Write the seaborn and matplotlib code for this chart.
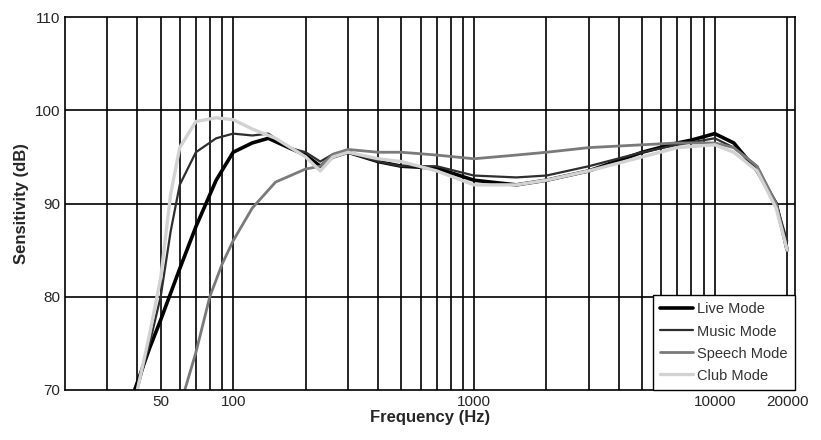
import seaborn as sns
import numpy as np
import pandas as pd
import matplotlib.pyplot as plt
from matplotlib.ticker import FixedLocator, NullLocator

# frequency response per mode
live_f = [39, 45, 50, 60, 70, 85, 100, 120, 140, 170, 200, 230, 260, 300, 400, 500, 700, 1000, 1500, 2000, 3000, 5000, 7000, 8000, 10000, 12000, 15000, 18000, 20000]
live_db = [70, 74.5, 77.5, 83, 87.5, 92.5, 95.5, 96.5, 97, 96, 95.2, 94, 95, 95.5, 94.5, 94, 93.8, 92.5, 92, 92.5, 93.5, 95.5, 96.5, 96.8, 97.5, 96.5, 93.5, 90, 85]

music_f = [40, 45, 50, 55, 60, 70, 85, 100, 120, 140, 170, 200, 230, 260, 300, 400, 500, 700, 1000, 1500, 2000, 3000, 5000, 7000, 10000, 12000, 15000, 18000, 20000]
music_db = [70, 75, 80, 87, 92, 95.5, 97, 97.5, 97.3, 97.5, 96, 95.5, 94.5, 95.3, 95.5, 94.5, 94, 94, 93, 92.8, 93, 94, 95.5, 96.3, 97, 96, 94, 90, 86]

speech_f = [63, 70, 80, 90, 100, 120, 150, 200, 230, 260, 300, 400, 500, 700, 1000, 1500, 2000, 3000, 5000, 7000, 10000, 12000, 15000, 18000, 20000]
speech_db = [70, 74, 80, 83.5, 86, 89.5, 92.3, 93.7, 94, 95.3, 95.8, 95.5, 95.5, 95.2, 94.8, 95.2, 95.5, 96, 96.3, 96.5, 96.5, 96, 94, 90, 85]

club_f = [40, 45, 50, 55, 60, 70, 85, 100, 120, 150, 200, 230, 260, 300, 400, 500, 700, 1000, 1500, 2000, 3000, 5000, 7000, 10000, 12000, 15000, 18000, 20000]
club_db = [70, 76, 82, 91, 96, 98.8, 99.2, 99, 98, 97, 95, 93.5, 95, 95.5, 94.8, 94.5, 93.5, 92, 92, 92.5, 93.5, 95, 96, 96.3, 95.5, 93.5, 89.5, 85]

modes = ['Live Mode', 'Music Mode', 'Speech Mode', 'Club Mode']
colors = ['#000000', '#2e2e2e', '#7a7a7a', '#d2d2d2']
widths = [2.6, 1.6, 2.0, 2.4]

df = pd.concat([
    pd.DataFrame({'freq': live_f, 'db': live_db, 'mode': modes[0]}),
    pd.DataFrame({'freq': music_f, 'db': music_db, 'mode': modes[1]}),
    pd.DataFrame({'freq': speech_f, 'db': speech_db, 'mode': modes[2]}),
    pd.DataFrame({'freq': club_f, 'db': club_db, 'mode': modes[3]}),
])

sns.set_style('white')
plt.rcParams['font.family'] = ['Liberation Sans', 'DejaVu Sans']
fig = plt.figure(figsize=(8.21, 4.4), dpi=100)
ax = fig.add_axes([0.079, 0.114, 0.889, 0.847])
ax.set_xscale('log')

grid_f = [30, 40, 50, 60, 70, 80, 90, 100, 200, 300, 400, 500, 600, 700, 800, 900,
          1000, 2000, 3000, 4000, 5000, 6000, 7000, 8000, 9000, 10000, 20000]
for g in grid_f:
    ax.axvline(g, color='black', lw=1.2, zorder=0)
for y in [80, 90, 100]:
    ax.axhline(y, color='black', lw=1.2, zorder=0)

for m, c, w in zip(modes, colors, widths):
    sns.lineplot(data=df[df['mode'] == m], x='freq', y='db', color=c, lw=w,
                 label=m, ax=ax, estimator=None, sort=True)

ax.set_xlim(20, 21500)
ax.set_ylim(70, 110)
ax.set_yticks([70, 80, 90, 100, 110])
ax.xaxis.set_major_locator(FixedLocator([50, 100, 1000, 10000, 20000]))
ax.xaxis.set_minor_locator(NullLocator())
ax.set_xticklabels(['50', '100', '1000', '10000', '20000'])
ax.tick_params(labelsize=11, length=0)
ax.set_xlabel('Frequency (Hz)', fontsize=12, fontweight='bold', labelpad=1)
ax.set_ylabel('Sensitivity (dB)', fontsize=12, fontweight='bold')
for s in ax.spines.values():
    s.set_color('black')
    s.set_linewidth(1.2)

leg = ax.legend(loc='lower right', fontsize=10.5, frameon=True, fancybox=False,
                borderaxespad=0, borderpad=0.5, handlelength=2.2, handletextpad=0.3,
                labelspacing=0.55)
leg.get_frame().set_edgecolor('black')
leg.get_frame().set_alpha(1)
for t in leg.get_texts():
    t.set_color('#333333')

fig.savefig('out.png')
